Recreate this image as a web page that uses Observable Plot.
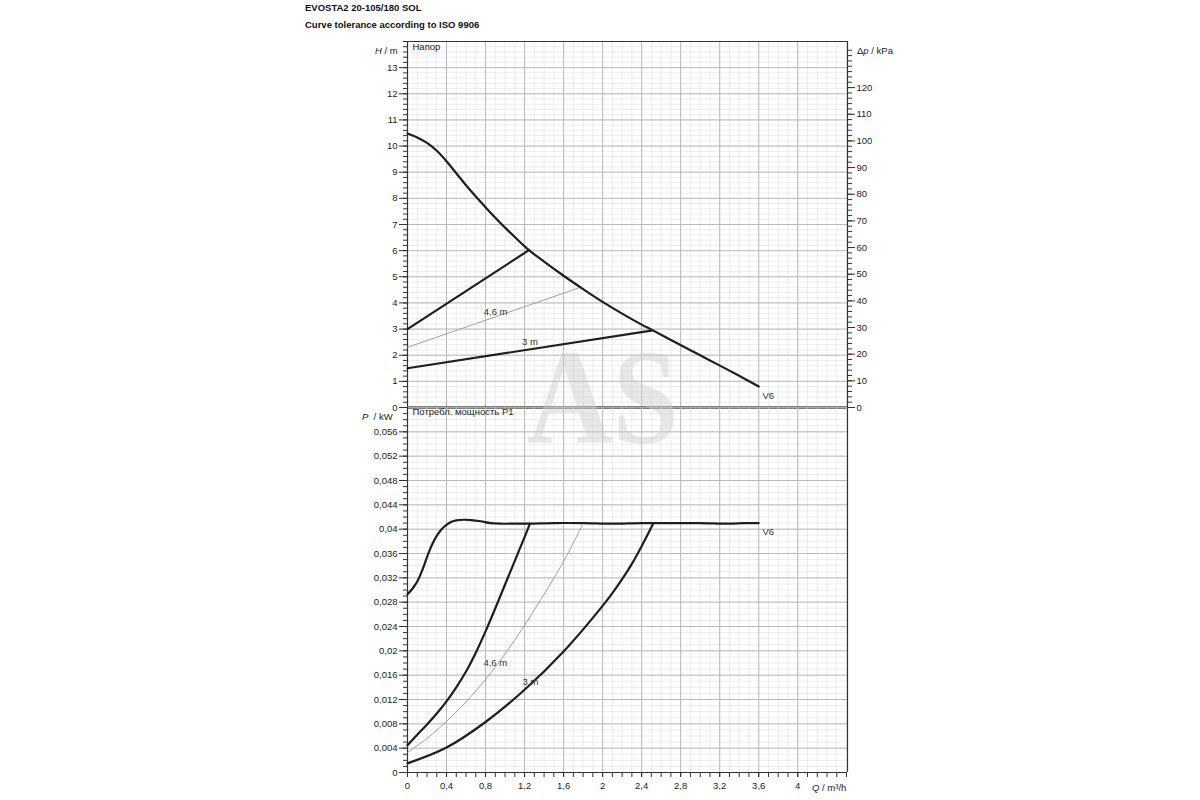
<!DOCTYPE html>
<html><head><meta charset="utf-8">
<script src="https://cdn.jsdelivr.net/npm/d3@7"></script>
<script src="https://cdn.jsdelivr.net/npm/@observablehq/plot@0.6"></script>
<style>
body{margin:0;width:1200px;height:800px;position:relative;background:#fff;font-family:"Liberation Sans",Arial,sans-serif;overflow:hidden}
.t{position:absolute;left:305px;font-weight:bold;font-size:9.5px;color:#111;white-space:nowrap}
.lab{position:absolute;font-size:9.5px;color:#222;white-space:nowrap;line-height:10px}
#topc{position:absolute;left:0;top:0}
#botc{position:absolute;left:0;top:407px}
#wm{position:absolute;left:527px;top:350px;height:96px;overflow:visible;display:inline-block;font-family:"Liberation Serif","DejaVu Serif",serif;font-weight:bold;font-size:135px;line-height:96px;color:rgba(205,205,205,0.45);transform:scaleX(0.88);transform-origin:left top;pointer-events:none;white-space:nowrap}
svg{overflow:visible}
</style>
</head><body>
<div class="t" style="top:2px">EVOSTA2 20-105/180 SOL</div>
<div class="t" style="top:19px">Curve tolerance according to ISO 9906</div>
<div id="topc"></div>
<div id="botc"></div>
<div class="lab" style="left:375px;top:46px"><i>H</i> / m</div>
<div class="lab" style="left:857px;top:46px">Δ<i>p</i> / kPa</div>
<div class="lab" style="left:362px;top:412px"><i>P</i>&nbsp; / kW</div>
<div class="lab" style="left:812px;top:783px"><i>Q</i> / m³/h</div>
<div id="wm">AS</div>
<script>
// ---- Data: head panel (Q in m³/h, H in m) ----
const v6Q = [0, 0.1, 0.2, 0.3, 0.4, 0.5, 0.6, 0.7, 0.8, 0.9, 1.0, 1.1, 1.245, 1.4, 1.6, 1.8, 2.0, 2.2, 2.4, 2.515, 2.7, 2.9, 3.1, 3.3, 3.45, 3.6];
const v6H = [10.48, 10.33, 10.12, 9.82, 9.42, 8.96, 8.5, 8.07, 7.66, 7.26, 6.88, 6.52, 6.02, 5.58, 5.04, 4.53, 4.04, 3.59, 3.17, 2.95, 2.58, 2.19, 1.80, 1.41, 1.11, 0.80];
const propQ = [0, 1.245];
const propH = [3.0, 6.02];
const p46Q = [0, 1.775];
const p46H = [2.3, 4.6];
const c3Q = [0, 2.515];
const c3H = [1.5, 2.95];

// ---- Data: power panel (Q in m³/h, P1 in kW) ----
const v6PQ = [0, 0.05, 0.1, 0.15, 0.2, 0.25, 0.3, 0.35, 0.4, 0.45, 0.5, 0.58, 0.65, 0.75, 0.85, 0.95, 1.1, 1.25, 1.5, 1.8, 2.1, 2.4, 2.7, 3.0, 3.3, 3.45, 3.6];
const v6P = [0.0293, 0.0302, 0.0314, 0.0332, 0.0354, 0.0374, 0.0389, 0.0400, 0.0407, 0.0412, 0.04145, 0.04155, 0.0415, 0.0413, 0.0410, 0.0409, 0.0409, 0.0409, 0.041, 0.041, 0.0409, 0.041, 0.041, 0.041, 0.0409, 0.041, 0.041];
const propPQ = [0, 0.1, 0.2, 0.3, 0.4, 0.5, 0.6, 0.7, 0.8, 0.9, 1.0, 1.1, 1.2, 1.255];
const propP = [0.0045, 0.0062, 0.0079, 0.0097, 0.0117, 0.0140, 0.0166, 0.0197, 0.0232, 0.0270, 0.0309, 0.0348, 0.0387, 0.0409];
const p46PQ = [0, 0.2, 0.4, 0.6, 0.8, 1.0, 1.2, 1.4, 1.6, 1.79];
const p46P = [0.0033, 0.0056, 0.0084, 0.0116, 0.0153, 0.0195, 0.0242, 0.0293, 0.0347, 0.0406];
const c3PQ = [0, 0.4, 0.8, 1.2, 1.6, 2.0, 2.1, 2.2, 2.3, 2.4, 2.515];
const c3P = [0.0015, 0.0041, 0.0083, 0.0136, 0.0199, 0.0274, 0.0295, 0.0318, 0.0343, 0.0372, 0.0408];

// ---- Tick labels ----
const qTicks = [0, 0.4, 0.8, 1.2, 1.6, 2, 2.4, 2.8, 3.2, 3.6, 4];
const hTicks = [0, 1, 2, 3, 4, 5, 6, 7, 8, 9, 10, 11, 12, 13];
const kpaTicks = [0, 10, 20, 30, 40, 50, 60, 70, 80, 90, 100, 110, 120];
const pTicks = [0, 0.004, 0.008, 0.012, 0.016, 0.02, 0.024, 0.028, 0.032, 0.036, 0.04, 0.044, 0.048, 0.052, 0.056];

const QMAX = 4.51, HMAX = 14, PMAX = 0.06, KPA_PER_M = 9.80665;
const qMinor = d3.range(0, 4.501, 0.1);
const hMinor = d3.range(0, 14.001, 0.2);
const kpaMinor = d3.range(0, 136, 2);
const pMinor = d3.range(0, 0.0605, 0.001);
const comma = d => String(+(+d).toFixed(3)).replace(".", ",");
const pts = (xs, ys) => xs.map((x, i) => ({x, y: ys[i]}));

const minorC = "#e0e0e0", majorC = "#b4b4b4", ink = "#1e1e1e";
const font = {fontFamily: "Liberation Sans, Arial, sans-serif", fontSize: "9.5px", color: "#222", overflow: "visible", background: "transparent"};

const topChart = Plot.plot({
  width: 1200, height: 407,
  marginLeft: 407, marginRight: 353, marginTop: 41, marginBottom: 0,
  x: {domain: [0, QMAX], axis: null},
  y: {domain: [0, HMAX]},
  style: font,
  marks: [
    Plot.gridX(qMinor, {stroke: minorC, strokeOpacity: 1, strokeWidth: 0.6}),
    Plot.gridY(hMinor, {stroke: minorC, strokeOpacity: 1, strokeWidth: 0.6}),
    Plot.gridX(qTicks, {stroke: majorC, strokeOpacity: 1, strokeWidth: 0.9}),
    Plot.gridY(hTicks, {stroke: majorC, strokeOpacity: 1, strokeWidth: 0.9}),
    Plot.axisY({ticks: hMinor, tickSize: 4, tickFormat: () => "", label: null, stroke: "#333"}),
    Plot.axisY({ticks: hTicks, tickSize: 8, tickPadding: 2, tickFormat: d => String(d), label: null, stroke: "#333"}),
    Plot.axisY({anchor: "right", ticks: kpaMinor.map(k => k / KPA_PER_M), tickSize: 4, tickFormat: () => "", label: null, stroke: "#333"}),
    Plot.axisY({anchor: "right", ticks: kpaTicks.map(k => k / KPA_PER_M), tickSize: 7, tickPadding: 2, tickFormat: h => String(Math.round(h * KPA_PER_M)), label: null, stroke: "#333"}),
    Plot.ruleX([0], {stroke: "#333", strokeWidth: 1.2}),
    Plot.ruleX([QMAX], {stroke: "#333", strokeWidth: 1.2}),
    Plot.ruleY([HMAX], {stroke: "#333", strokeWidth: 1.2}),
    Plot.ruleY([0], {stroke: "#555", strokeWidth: 2.5}),
    Plot.line(pts(p46Q, p46H), {x: "x", y: "y", stroke: "#8a8a8a", strokeWidth: 0.8}),
    Plot.line(pts(propQ, propH), {x: "x", y: "y", stroke: ink, strokeWidth: 2.2}),
    Plot.line(pts(c3Q, c3H), {x: "x", y: "y", stroke: ink, strokeWidth: 2.2}),
    Plot.line(pts(v6Q, v6H), {x: "x", y: "y", stroke: ink, strokeWidth: 2.2, curve: "catmull-rom"}),
    Plot.text(["Напор"], {frameAnchor: "top-left", dx: 5, dy: 2, textAnchor: "start", fontSize: 9.5, fill: "#222"}),
    Plot.text([{x: 0.903, y: 3.67, t: "4,6 m"}], {x: "x", y: "y", text: "t", fontSize: 9.5, fill: "#333"}),
    Plot.text([{x: 1.256, y: 2.5, t: "3 m"}], {x: "x", y: "y", text: "t", fontSize: 9.5, fill: "#333"}),
    Plot.text([{x: 3.638, y: 0.43, t: "V6"}], {x: "x", y: "y", text: "t", textAnchor: "start", fontSize: 9.5, fill: "#333"})
  ]
});
document.getElementById("topc").append(topChart);

const botChart = Plot.plot({
  width: 1200, height: 393,
  marginLeft: 407, marginRight: 353, marginTop: 0, marginBottom: 28,
  x: {domain: [0, QMAX]},
  y: {domain: [0, PMAX]},
  style: font,
  marks: [
    Plot.gridX(qMinor, {stroke: minorC, strokeOpacity: 1, strokeWidth: 0.6}),
    Plot.gridY(pMinor, {stroke: minorC, strokeOpacity: 1, strokeWidth: 0.6}),
    Plot.gridX(qTicks, {stroke: majorC, strokeOpacity: 1, strokeWidth: 0.9}),
    Plot.gridY(pTicks, {stroke: majorC, strokeOpacity: 1, strokeWidth: 0.9}),
    Plot.axisY({ticks: pMinor, tickSize: 4, tickFormat: () => "", label: null, stroke: "#333"}),
    Plot.axisY({ticks: pTicks, tickSize: 8, tickPadding: 2, tickFormat: comma, label: null, stroke: "#333"}),
    Plot.axisX({ticks: qMinor, tickSize: 5, tickFormat: () => "", label: null, stroke: "#333"}),
    Plot.axisX({ticks: qTicks, tickSize: 5, tickPadding: 5, tickFormat: comma, label: null, stroke: "#333"}),
    Plot.ruleX([0], {stroke: "#333", strokeWidth: 1.2}),
    Plot.ruleX([QMAX], {stroke: "#333", strokeWidth: 1.2}),
    Plot.ruleY([0], {stroke: "#333", strokeWidth: 1.2}),
    Plot.line(pts(p46PQ, p46P), {x: "x", y: "y", stroke: "#8a8a8a", strokeWidth: 0.8, curve: "catmull-rom"}),
    Plot.line(pts(propPQ, propP), {x: "x", y: "y", stroke: ink, strokeWidth: 2.2, curve: "catmull-rom"}),
    Plot.line(pts(c3PQ, c3P), {x: "x", y: "y", stroke: ink, strokeWidth: 2.2, curve: "catmull-rom"}),
    Plot.line(pts(v6PQ, v6P), {x: "x", y: "y", stroke: ink, strokeWidth: 2.2, curve: "catmull-rom"}),
    Plot.text(["Потребл. мощность P1"], {frameAnchor: "top-left", dx: 5, dy: 1, textAnchor: "start", fontSize: 9.5, fill: "#222"}),
    Plot.text([{x: 0.9, y: 0.018, t: "4,6 m"}], {x: "x", y: "y", text: "t", fontSize: 9.5, fill: "#333"}),
    Plot.text([{x: 1.26, y: 0.0149, t: "3 m"}], {x: "x", y: "y", text: "t", fontSize: 9.5, fill: "#333"}),
    Plot.text([{x: 3.638, y: 0.0396, t: "V6"}], {x: "x", y: "y", text: "t", textAnchor: "start", fontSize: 9.5, fill: "#333"})
  ]
});
document.getElementById("botc").append(botChart);
</script>
</body></html>
